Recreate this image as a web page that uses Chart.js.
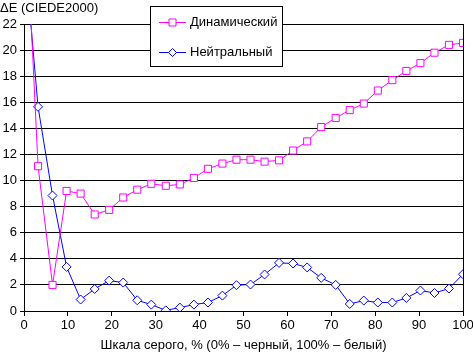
<!DOCTYPE html>
<html>
<head>
<meta charset="utf-8">
<script src="https://cdn.jsdelivr.net/npm/chart.js@4/dist/chart.umd.min.js"></script>
<style>
html,body{margin:0;padding:0;background:#fff;}
canvas{display:block;}
</style>
</head>
<body>
<canvas id="c" width="473" height="353"></canvas>
<script>
// Gray scale positions, % (0% = black, 100% = white)
const grayLevels = [0, 3.2, 6.5, 9.7, 12.9, 16.1, 19.4, 22.6, 25.8, 29.0, 32.3, 35.5, 38.7, 41.9, 45.2, 48.4,
                    51.6, 54.8, 58.1, 61.3, 64.5, 67.7, 71.0, 74.2, 77.4, 80.6, 83.9, 87.1, 90.3, 93.5, 96.8, 100];
// ΔE (CIEDE2000) values
const dynamicValues = [33.5, 11.1, 2.0, 9.2, 9.0, 7.4, 7.75, 8.7, 9.3, 9.75, 9.6, 9.7, 10.2, 10.9, 11.3, 11.6,
                       11.6, 11.45, 11.55, 12.3, 13.0, 14.1, 14.8, 15.4, 15.9, 16.9, 17.7, 18.4, 19.0, 19.8, 20.4, 20.55];
const neutralValues = [28, 15.65, 8.85, 3.38, 0.88, 1.69, 2.33, 2.18, 0.82, 0.49, 0.05, 0.26, 0.49, 0.65, 1.18, 1.98,
                       2.03, 2.8, 3.69, 3.64, 3.34, 2.54, 2.0, 0.54, 0.8, 0.65, 0.65, 1.0, 1.57, 1.38, 1.72, 2.82];
const seriesNames = ['Динамический', 'Нейтральный'];
const xTicks = [0, 10, 20, 30, 40, 50, 60, 70, 80, 90, 100];
const yTicks = [0, 2, 4, 6, 8, 10, 12, 14, 16, 18, 20, 22];
const yTitle = 'ΔE (CIEDE2000)';
const xTitle = 'Шкала серого, % (0% – черный, 100% – белый)';

const FONT = 'Arial, "Liberation Sans", sans-serif';
const toPts = vals => vals.map((v, i) => ({x: grayLevels[i], y: v}));

const extras = {
  id: 'extras',
  afterDraw(chart) {
    const ctx = chart.ctx;
    ctx.save();
    // y axis title
    ctx.fillStyle = '#000';
    ctx.font = '13px ' + FONT;
    ctx.textAlign = 'left';
    ctx.textBaseline = 'middle';
    ctx.fillText(yTitle, 0, 8);
    // legend
    const bx = 150.5, by = 6.5, bw = 132, bh = 60;
    ctx.fillStyle = '#fff';
    ctx.fillRect(bx, by, bw, bh);
    ctx.strokeStyle = '#000';
    ctx.lineWidth = 1;
    ctx.strokeRect(bx, by, bw, bh);
    const rows = [
      {name: seriesNames[0], color: '#FF00FF', y: 22.5, style: 'rect'},
      {name: seriesNames[1], color: '#0000FF', y: 52.5, style: 'diamond'}
    ];
    rows.forEach(r => {
      ctx.strokeStyle = r.color;
      ctx.beginPath();
      ctx.moveTo(159, r.y);
      ctx.lineTo(186, r.y);
      ctx.stroke();
      const cx = 172.5;
      ctx.fillStyle = '#fff';
      ctx.beginPath();
      if (r.style === 'rect') {
        ctx.rect(cx - 3.5, r.y - 3.5, 7, 7);
      } else {
        ctx.moveTo(cx, r.y - 4);
        ctx.lineTo(cx + 4, r.y);
        ctx.lineTo(cx, r.y + 4);
        ctx.lineTo(cx - 4, r.y);
        ctx.closePath();
      }
      ctx.fill();
      ctx.stroke();
      ctx.fillStyle = '#000';
      ctx.font = '13px ' + FONT;
      ctx.textAlign = 'left';
      ctx.textBaseline = 'middle';
      ctx.fillText(r.name, 190, r.y);
    });
    ctx.restore();
  }
};

new Chart(document.getElementById('c'), {
  type: 'line',
  data: {
    datasets: [
      {
        label: seriesNames[0],
        data: toPts(dynamicValues),
        borderColor: '#FF00FF',
        backgroundColor: '#FFFFFF',
        borderWidth: 1,
        pointStyle: 'rect',
        pointRadius: 5,
        pointBorderWidth: 1,
        pointBackgroundColor: '#FFFFFF',
        pointBorderColor: '#FF00FF',
        tension: 0
      },
      {
        label: seriesNames[1],
        data: toPts(neutralValues),
        borderColor: '#0000FF',
        backgroundColor: '#FFFFFF',
        borderWidth: 1,
        pointStyle: 'rectRot',
        pointRadius: 4.5,
        pointBorderWidth: 1,
        pointBackgroundColor: '#FFFFFF',
        pointBorderColor: '#0000FF',
        tension: 0
      }
    ]
  },
  options: {
    responsive: false,
    animation: false,
    devicePixelRatio: 1,
    layout: {padding: {top: 24, right: 10, left: 0, bottom: 0}},
    plugins: {legend: {display: false}, tooltip: {enabled: false}, title: {display: false}},
    scales: {
      x: {
        type: 'linear',
        min: 0, max: 100,
        afterBuildTicks: s => { s.ticks = xTicks.map(v => ({value: v})); },
        afterFit: s => { s.height = 42; s.paddingRight = 0; s.paddingLeft = 0; },
        ticks: {color: '#000', font: {family: FONT, size: 13}, padding: 2, maxRotation: 0, autoSkip: false},
        grid: {
          color: c => (c.tick && c.tick.value === 100) ? '#000' : 'rgba(0,0,0,0)',
          tickColor: '#000',
          tickLength: 5,
          lineWidth: 1
        },
        border: {display: true, color: '#000', width: 1},
        title: {display: true, text: xTitle, color: '#000', font: {family: FONT, size: 13}, padding: {top: 0, bottom: 0}}
      },
      y: {
        type: 'linear',
        min: 0, max: 22,
        afterBuildTicks: s => { s.ticks = yTicks.map(v => ({value: v})); },
        afterFit: s => { s.width = 24; s.paddingTop = 0; s.paddingBottom = 0; },
        ticks: {color: '#000', font: {family: FONT, size: 13}, padding: 3},
        grid: {color: '#000', tickColor: '#000', tickLength: 4, lineWidth: 1},
        border: {display: true, color: '#000', width: 1}
      }
    }
  },
  plugins: [extras]
});
</script>
</body>
</html>
